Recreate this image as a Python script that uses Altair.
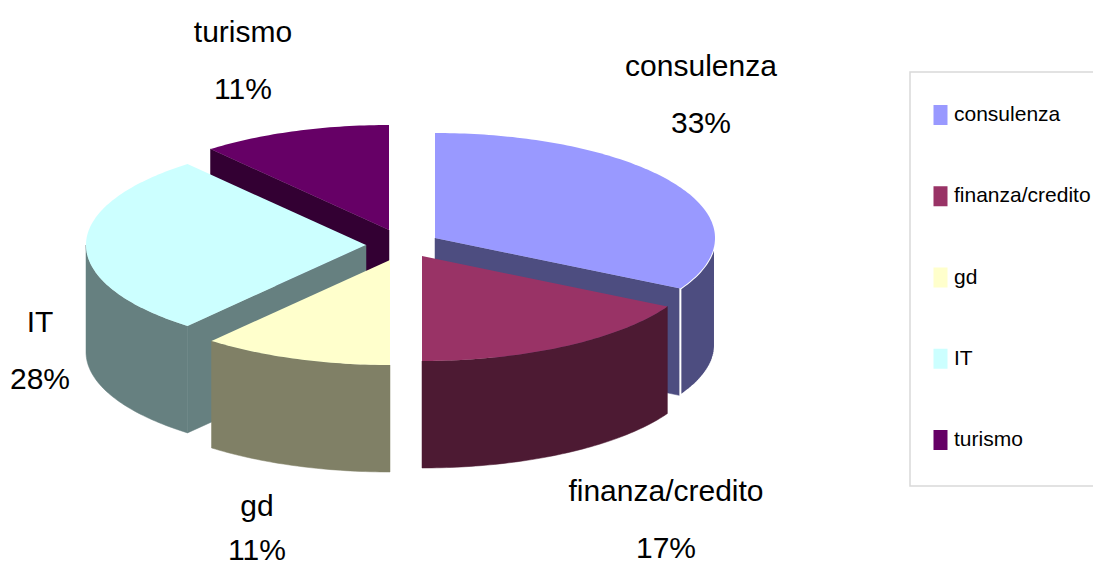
import math
import altair as alt

categories = ["consulenza", "finanza/credito", "gd", "IT", "turismo"]
shares = [33, 17, 11, 28, 11]
top_colors = ["#9999FF", "#993366", "#FFFFCC", "#CCFFFF", "#660066"]
side_colors = ["#4D4D80", "#4D1A33", "#808066", "#668080", "#330033"]

# layout of the exploded pie, in plot pixels
apexes = [(427, 230), (414, 248), (382, 252), (358, 237), (381, 222)]
RX, RY, DEPTH = 280, 105, 107
paint_order = ["turismo", "consulenza", "IT", "gd", "finanza/credito"]
# centre x, first line y, second line y
label_places = [(693, 59, 116), (658, 484, 541), (249, 499, 543), (32, 315, 372), (235, 25, 82)]


def point(apex, deg, drop=0):
    a = math.radians(deg)
    return [apex[0] + RX * math.sin(a), apex[1] - RY * math.cos(a) + drop]


def feature(ring, name, fill, stroke, width):
    ring = [list(p) for p in ring] + [list(ring[0])]
    return {
        "type": "Feature",
        "geometry": {"type": "Polygon", "coordinates": [ring]},
        "properties": {"name": name, "fill": fill, "stroke": stroke, "width": width},
    }


total = sum(shares)
sides, tops = [], []
start = 0.0
for name, share, top, side, apex in zip(categories, shares, top_colors, side_colors, apexes):
    end = start + 360.0 * share / total
    steps = max(2, int(end - start))
    degs = [start + (end - start) * i / steps for i in range(steps + 1)]
    tops.append(feature([list(apex)] + [point(apex, d) for d in degs], name, top, top, 0.5))
    # radial faces that look towards the viewer
    if 0 < end < 180:
        sides.append(feature([list(apex), point(apex, end), point(apex, end, DEPTH), [apex[0], apex[1] + DEPTH]],
                             name, side, side, 0.5))
    if 180 < start < 360:
        sides.append(feature([list(apex), point(apex, start), point(apex, start, DEPTH), [apex[0], apex[1] + DEPTH]],
                             name, side, side, 0.5))
    # curved outer wall
    front = [d for d in degs if 90 <= d <= 270]
    if len(front) >= 2:
        separated = name == "consulenza"
        sides.append(feature([point(apex, d) for d in front] + [point(apex, d, DEPTH) for d in reversed(front)],
                             name, side, "#FFFFFF" if separated else side, 2 if separated else 0.5))
    start = end

sides.sort(key=lambda f: paint_order.index(f["properties"]["name"]))

identity = alt.Projection(type="identity", reflectY=False, scale=1, translate=[0, 0])
FONT = "Liberation Sans"

side_layer = alt.Chart(alt.Data(values=sides)).mark_geoshape().encode(
    fill=alt.Fill("properties.fill:N", scale=None, legend=None),
    stroke=alt.Stroke("properties.stroke:N", scale=None, legend=None),
    strokeWidth=alt.StrokeWidth("properties.width:Q", scale=None, legend=None),
)

top_layer = alt.Chart(alt.Data(values=tops)).mark_geoshape(strokeWidth=0.5).encode(
    color=alt.Color(
        "properties.name:N",
        scale=alt.Scale(domain=categories, range=top_colors),
        legend=alt.Legend(
            title=None, orient="none", legendX=922, legendY=93, padding=0,
            symbolType="M-0.7,-1H0.7V1H-0.7Z", symbolSize=400, symbolStrokeWidth=0,
            labelFont=FONT, labelFontSize=21, labelColor="#000000", labelOffset=3,
            labelLimit=200, rowPadding=53.25, clipHeight=28,
        ),
    ),
)

frame = alt.Chart(alt.Data(values=[{"f": 1}])).mark_rect(
    fill="#FFFFFF", stroke="#D9D9D9", strokeWidth=1.5
).encode(x=alt.value(902), x2=alt.value(1100), y=alt.value(64), y2=alt.value(478))

labels = []
for c, s, (lx, y1, y2) in zip(categories, shares, label_places):
    labels.append({"text": c, "lx": lx, "ly": y1})
    labels.append({"text": f"{s}%", "lx": lx, "ly": y2})

label_layer = alt.Chart(alt.Data(values=labels)).mark_text(
    font=FONT, fontSize=30, color="#000000", align="center", baseline="middle"
).encode(
    x=alt.X("lx:Q", scale=None, axis=None),
    y=alt.Y("ly:Q", scale=None, axis=None),
    text="text:N",
)

chart = alt.layer(frame, side_layer, top_layer, label_layer).resolve_scale(
    color="independent"
).properties(
    width=1085, height=559, padding=0, autosize=alt.AutoSizeParams(type="none"),
    projection=identity,
).configure_view(stroke=None)

chart.save("out.html", embed_options={"renderer": "svg", "actions": False})
